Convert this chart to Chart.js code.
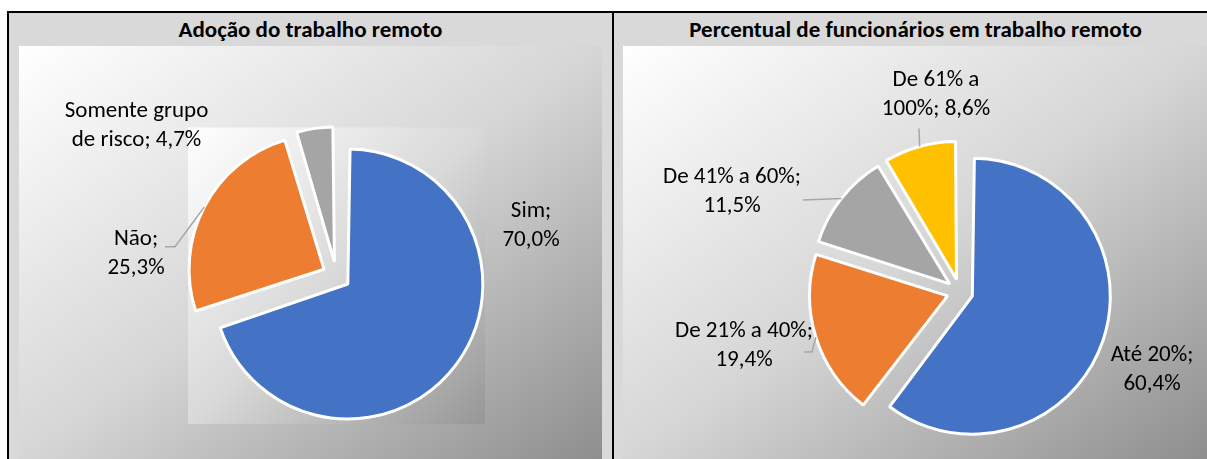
<!DOCTYPE html>
<html lang="pt-BR">
<head>
<meta charset="utf-8">
<title>Trabalho remoto</title>
<script src="https://cdn.jsdelivr.net/npm/chart.js@4.4.1/dist/chart.umd.min.js"></script>
<style>
  html, body { margin: 0; padding: 0; background: #fff; overflow: hidden; }
  body { width: 1207px; height: 459px; position: relative; font-family: Carlito, Lato, sans-serif; }
  .panel { position: absolute; top: 11px; height: 470px; box-sizing: border-box;
           border: 2px solid #000; border-bottom: none; background: #d9d9d9; }
  .head { position: absolute; left: 0; top: 0; width: 100%; height: 32px; line-height: 32px;
          text-align: center; font-weight: bold; font-size: 23px; color: #000; }
  .area { position: absolute; top: 33px; height: 413px;
          background: linear-gradient(to bottom right, #ffffff 0%, #d6d6d6 50%, #8e8e8e 100%); }
  canvas { display: block; }
</style>
</head>
<body>
<div class="panel" style="left:7px; width:607px;">
  <div class="head">Adoção do trabalho remoto</div>
  <div class="area" style="left:10px; width:583px;"><canvas id="chartAdocao" width="583" height="413"></canvas></div>
</div>
<div class="panel" style="left:612px; width:607px;">
  <div class="head">Percentual de funcionários em trabalho remoto</div>
  <div class="area" style="left:9px; width:585px;"><canvas id="chartPercentual" width="585" height="413"></canvas></div>
</div>
<script>
// data
const adocaoLabels = ['Sim', 'Não', 'Somente grupo de risco'];
const adocaoValues = [70.0, 25.3, 4.7];
const percLabels = ['Até 20%', 'De 21% a 40%', 'De 41% a 60%', 'De 61% a 100%'];
const percValues = [60.4, 19.4, 11.5, 8.6];

const BLUE = '#4472C4', ORANGE = '#ED7D31', GRAY = '#A5A5A5', YELLOW = '#FFC000';
const LABEL_FONT = '23px Carlito, Lato, sans-serif';

function fmt(v) {
    return v.toFixed(1).replace('.', ',') + '%';
}

// Excel-like exploded pie: chart.js offset also grows the radius of
// some slices, so keep all slices at the same radius.
const evenRadius = {
    id: 'evenRadius',
    beforeDatasetsDraw(chart) {
        const meta = chart.getDatasetMeta(0);
        const R = meta.controller.outerRadius;
        const off = (chart.data.datasets[0].offset || 0) / 4;
        meta.data.forEach(arc => {
            const c = arc.endAngle - arc.startAngle;
            const fix = 1 - Math.sin(Math.min(Math.PI, c));
            arc.outerRadius = R - off * fix;
        });
    }
};

// background of the plot area (only used on the first chart)
const plotAreaFill = {
    id: 'plotAreaFill',
    beforeDraw(chart, args, opts) {
        if (!opts.enabled) return;
        const {ctx, chartArea: a} = chart;
        const g = ctx.createLinearGradient(a.left, a.top, a.right, a.bottom);
        g.addColorStop(0, '#ffffff');
        g.addColorStop(0.5, '#d9d9d9');
        g.addColorStop(1, '#979797');
        ctx.save();
        ctx.fillStyle = g;
        ctx.fillRect(a.left, a.top, a.right - a.left, a.bottom - a.top);
        ctx.restore();
    }
};

// data labels "Categoria; valor" with optional leader lines
const pieLabels = {
    id: 'pieLabels',
    afterDatasetsDraw(chart, args, opts) {
        const {ctx} = chart;
        const meta = chart.getDatasetMeta(0);
        const ds = chart.data.datasets[0];
        const R = meta.controller.outerRadius;
        const off = (ds.offset || 0) / 4;
        ctx.save();
        ctx.font = LABEL_FONT;
        ctx.fillStyle = '#000';
        ctx.textAlign = 'center';
        ctx.textBaseline = 'middle';
        meta.data.forEach((arc, i) => {
            const p = opts.place[i];
            const cx = arc.x + p.dx, cy = arc.y + p.dy;
            // wrap text
            const words = (chart.data.labels[i] + '; ' + fmt(ds.data[i])).split(' ');
            const lines = [];
            let cur = '';
            words.forEach(w => {
                const t = cur ? cur + ' ' + w : w;
                if (cur && ctx.measureText(t).width > p.wrap) { lines.push(cur); cur = w; }
                else cur = t;
            });
            lines.push(cur);
            const lh = 29;
            lines.forEach((l, k) => {
                ctx.fillText(l, cx, cy + (k - (lines.length - 1) / 2) * lh);
            });
            if (p.leader) {
                const mid = (arc.startAngle + arc.endAngle) / 2;
                const ex = arc.x + Math.cos(mid) * (off + R);
                const ey = arc.y + Math.sin(mid) * (off + R);
                const sx = cx + p.leader[0], sy = cy + p.leader[1];
                ctx.beginPath();
                ctx.strokeStyle = '#a6a6a6';
                ctx.lineWidth = 1.5;
                ctx.moveTo(sx, sy);
                if (p.elbow) ctx.lineTo(sx + p.elbow, sy);
                ctx.lineTo(ex, ey);
                ctx.stroke();
            }
        });
        ctx.restore();
    }
};

Chart.register(evenRadius, plotAreaFill, pieLabels);

new Chart(document.getElementById('chartAdocao'), {
    type: 'pie',
    data: {
        labels: adocaoLabels,
        datasets: [{
            data: adocaoValues,
            backgroundColor: [BLUE, ORANGE, GRAY],
            borderColor: '#ffffff',
            borderWidth: 3,
            offset: 56
        }]
    },
    options: {
        responsive: false,
        animation: false,
        radius: 135,
        layout: { padding: { left: 169, right: 117, top: 81.5, bottom: 35 } },
        plugins: {
            legend: { display: false },
            tooltip: { enabled: false },
            plotAreaFill: { enabled: true },
            pieLabels: {
                place: [
                    { dx: 194.5, dy: -50, wrap: 80 },
                    { dx: -200.5, dy: -22, wrap: 80, leader: [29, -7], elbow: 10 },
                    { dx: -200, dy: -150, wrap: 165 }
                ]
            }
        }
    }
});

new Chart(document.getElementById('chartPercentual'), {
    type: 'pie',
    data: {
        labels: percLabels,
        datasets: [{
            data: percValues,
            backgroundColor: [BLUE, ORANGE, GRAY, YELLOW],
            borderColor: '#ffffff',
            borderWidth: 3,
            offset: 52
        }]
    },
    options: {
        responsive: false,
        animation: false,
        radius: 138,
        layout: { padding: { left: 186, right: 97, top: 95, bottom: 16 } },
        plugins: {
            legend: { display: false },
            tooltip: { enabled: false },
            plotAreaFill: { enabled: false },
            pieLabels: {
                place: [
                    { dx: 192, dy: 78, wrap: 100 },
                    { dx: -216, dy: 53.5, wrap: 170, leader: [60, 6.5], elbow: 8 },
                    { dx: -228, dy: -100, wrap: 170, leader: [71, 8] },
                    { dx: -24, dy: -197, wrap: 135, leader: [-17, 33.5] }
                ]
            }
        }
    }
});
</script>
</body>
</html>
